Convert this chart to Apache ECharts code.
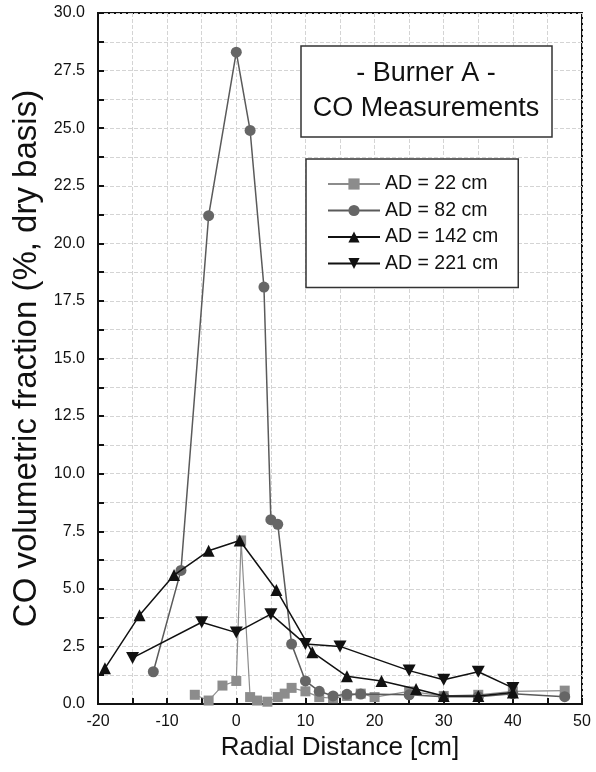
<!DOCTYPE html>
<html>
<head>
<meta charset="utf-8">
<script src="https://cdn.jsdelivr.net/npm/echarts@6/dist/echarts.min.js"></script>
<style>
html,body{margin:0;padding:0;background:#fff;}
#chart{width:596px;height:772px;}
</style>
</head>
<body>
<div id="chart"></div>
<script>
var seriesNames = ['AD = 22 cm', 'AD = 82 cm', 'AD = 142 cm', 'AD = 221 cm'];

var ad22X = [-6, -4, -2, 0, 0.7, 2, 3, 4.5, 6, 7, 8, 10, 12, 14, 16, 18, 20, 25, 30, 35, 40, 47.5];
var ad22Y = [0.4, 0.15, 0.8, 1.0, 7.1, 0.3, 0.15, 0.1, 0.3, 0.45, 0.7, 0.55, 0.3, 0.25, 0.35, 0.45, 0.3, 0.55, 0.35, 0.4, 0.55, 0.58];

var ad82X = [-12, -8, -4, 0, 2, 4, 5, 6, 8, 10, 12, 14, 16, 18, 25, 30, 35, 40, 47.5];
var ad82Y = [1.4, 5.8, 21.2, 28.3, 24.9, 18.1, 8.0, 7.8, 2.6, 1.0, 0.55, 0.35, 0.42, 0.43, 0.4, 0.32, 0.32, 0.45, 0.32];

var ad142X = [-19, -14, -9, -4, 0.5, 5.8, 11, 16, 21, 26, 30, 35, 40];
var ad142Y = [1.55, 3.85, 5.6, 6.65, 7.1, 4.95, 2.25, 1.2, 1.0, 0.65, 0.35, 0.35, 0.5];

var ad221X = [-15, -5, 0, 5, 10, 15, 25, 30, 35, 40];
var ad221Y = [2.0, 3.55, 3.1, 3.9, 2.6, 2.5, 1.45, 1.05, 1.4, 0.7];

var titleLines = ['- Burner A -', 'CO Measurements'];
var xName = 'Radial Distance [cm]';
var yName = 'CO volumetric fraction (%, dry basis)';

function pairs(xs, ys) {
  return xs.map(function (x, i) { return [x, ys[i]]; });
}

var FONT = 'Liberation Sans, Arial, Helvetica, sans-serif';
var chart = echarts.init(document.getElementById('chart'));

var option = {
  backgroundColor: '#fff',
  animation: false,
  grid: {
    left: 98, right: 14, top: 13, bottom: 68,
    show: true, borderColor: '#111', borderWidth: 2, backgroundColor: 'transparent'
  },
  xAxis: {
    type: 'value', min: -20, max: 50, interval: 10,
    name: xName, nameLocation: 'middle', nameGap: 28,
    nameTextStyle: { fontFamily: FONT, fontSize: 26, color: '#111' },
    axisLine: { show: true, onZero: false, lineStyle: { color: '#111', width: 2 } },
    axisTick: { show: true, inside: true, length: 6, lineStyle: { color: '#111', width: 2 } },
    minorTick: { show: true, splitNumber: 2, length: 6, lineStyle: { color: '#111', width: 2 } },
    axisLabel: { fontFamily: FONT, fontSize: 16, color: '#111', margin: 10 },
    splitLine: { show: true, lineStyle: { color: '#d4d4d4', width: 1, type: [4, 2] } },
    minorSplitLine: { show: true, lineStyle: { color: '#d4d4d4', width: 1, type: [4, 2] } }
  },
  yAxis: {
    type: 'value', min: 0, max: 30, interval: 2.5,
    name: yName, nameLocation: 'middle', nameGap: 50, nameRotate: 90,
    nameTextStyle: { fontFamily: FONT, fontSize: 33, color: '#111' },
    axisLine: { show: true, onZero: false, lineStyle: { color: '#111', width: 2 } },
    axisTick: { show: true, inside: true, length: 6, lineStyle: { color: '#111', width: 2 } },
    minorTick: { show: true, splitNumber: 2, length: 6, lineStyle: { color: '#111', width: 2 } },
    axisLabel: { fontFamily: FONT, fontSize: 16, color: '#111', margin: 13,
      formatter: function (v) { return v.toFixed(1); } },
    splitLine: { show: true, lineStyle: { color: '#d4d4d4', width: 1, type: [4, 2] } },
    minorSplitLine: { show: true, lineStyle: { color: '#d4d4d4', width: 1, type: [4, 2] } }
  },
  legend: {
    orient: 'vertical', left: 306, top: 159,
    padding: [15, 20, 14, 21],
    itemWidth: 52, itemHeight: 14, itemGap: 6.5,
    borderColor: '#333', borderWidth: 1.5, backgroundColor: '#fff',
    textStyle: { fontFamily: FONT, fontSize: 19.5, color: '#111', lineHeight: 20 },
    data: seriesNames
  },
  graphic: [
    { type: 'rect', shape: { x: 301, y: 46, width: 251, height: 91 },
      style: { fill: '#fff', stroke: '#333', lineWidth: 1.5 }, z: 10 },
    { type: 'text', x: 426, y: 91, z: 11,
      style: { text: titleLines.join('\n'), align: 'center', verticalAlign: 'middle',
        font: '27px ' + FONT, lineHeight: 35, fill: '#111' } }
  ],
  series: [
    { name: seriesNames[0], type: 'line', data: pairs(ad22X, ad22Y),
      symbol: 'rect', symbolSize: 10, z: 2,
      lineStyle: { color: '#8c8c8c', width: 1.2 }, itemStyle: { color: '#8c8c8c' } },
    { name: seriesNames[1], type: 'line', data: pairs(ad82X, ad82Y),
      symbol: 'circle', symbolSize: 11, z: 3,
      lineStyle: { color: '#5a5a5a', width: 1.5 }, itemStyle: { color: '#666' } },
    { name: seriesNames[2], type: 'line', data: pairs(ad142X, ad142Y),
      symbol: 'triangle', symbolSize: 12, z: 4,
      lineStyle: { color: '#111', width: 1.5 }, itemStyle: { color: '#111' } },
    { name: seriesNames[3], type: 'line', data: pairs(ad221X, ad221Y),
      symbol: 'path://M0,0 L10,0 L5,9 Z', symbolSize: [13, 12], z: 5,
      lineStyle: { color: '#111', width: 1.5 }, itemStyle: { color: '#111' } }
  ]
};
chart.setOption(option);
</script>
</body>
</html>
